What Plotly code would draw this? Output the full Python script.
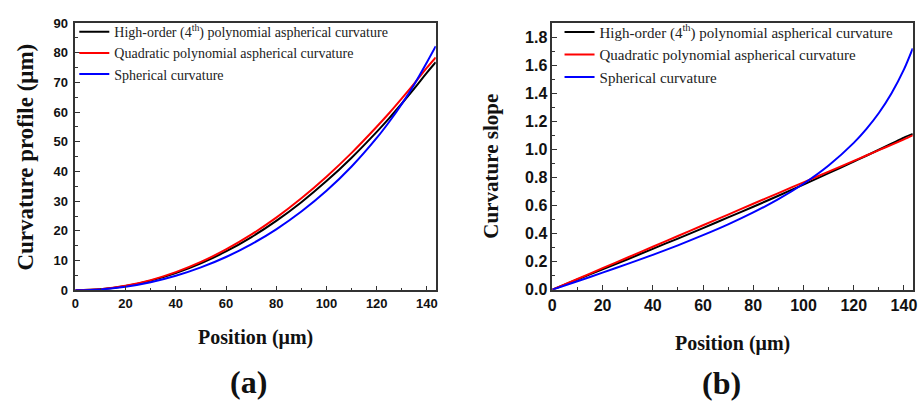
import plotly.graph_objects as go

# ---- data ----
position = [0, 10, 20, 30, 40, 50, 60, 70, 80, 90, 100, 110, 120, 125, 130, 135, 140, 143.5]

profile_high_order = [0, 0.36, 1.45, 3.26, 5.80, 9.07, 13.09, 17.85, 23.38, 29.68, 36.77, 44.66, 53.37, 58.0, 62.91, 68.0, 73.31, 76.8]
profile_quadratic = [0, 0.38, 1.53, 3.44, 6.12, 9.56, 13.77, 18.74, 24.47, 30.97, 38.24, 46.27, 55.07, 59.7, 64.63, 69.69, 74.95, 78.4]
profile_spherical = [0, 0.30, 1.21, 2.73, 4.89, 7.71, 11.22, 15.48, 20.55, 26.52, 33.50, 41.68, 51.30, 56.77, 62.77, 69.40, 76.80, 82.2]

slope_high_order = [0, 0.072, 0.145, 0.217, 0.291, 0.364, 0.439, 0.515, 0.591, 0.669, 0.749, 0.830, 0.912, 0.954, 0.997, 1.040, 1.084, 1.11]
slope_quadratic = [0, 0.076, 0.153, 0.229, 0.306, 0.382, 0.459, 0.535, 0.612, 0.688, 0.765, 0.841, 0.918, 0.956, 0.994, 1.032, 1.071, 1.10]
slope_spherical = [0, 0.060, 0.121, 0.184, 0.248, 0.316, 0.388, 0.465, 0.550, 0.645, 0.755, 0.885, 1.046, 1.144, 1.259, 1.398, 1.570, 1.72]

series_names = [
    "High-order (4<sup>th</sup>) polynomial aspherical curvature",
    "Quadratic polynomial aspherical curvature",
    "Spherical curvature",
]
series_colors = ["#000000", "#ff0000", "#0000ff"]

W, H = 924, 404
def px(x): return x / W
def py(y): return 1 - y / H

fig = go.Figure()

for name, color, ys in zip(series_names, series_colors,
                           [profile_high_order, profile_quadratic, profile_spherical]):
    fig.add_trace(go.Scatter(x=position, y=ys, mode="lines", name=name,
                             line=dict(color=color, width=2, shape="spline", smoothing=0.8),
                             xaxis="x", yaxis="y", legend="legend"))

for name, color, ys in zip(series_names, series_colors,
                           [slope_high_order, slope_quadratic, slope_spherical]):
    fig.add_trace(go.Scatter(x=position, y=ys, mode="lines", name=name,
                             line=dict(color=color, width=2, shape="spline", smoothing=0.8),
                             xaxis="x2", yaxis="y2", legend="legend2"))

axis_common = dict(showline=True, mirror=True, linecolor="#333333", linewidth=1.5,
                   showgrid=False, zeroline=False, ticks="inside", ticklen=5,
                   tickwidth=1.2, tickcolor="#333333")

tickfont_a = dict(family="Liberation Sans, Arial", size=13, color="#111111", weight="bold")
tickfont_b = dict(family="Liberation Sans, Arial", size=16, color="#111111", weight="bold")

fig.update_layout(
    width=W, height=H,
    margin=dict(l=0, r=0, t=0, b=0),
    paper_bgcolor="white", plot_bgcolor="white",
    showlegend=True,
    xaxis=dict(domain=[px(72), px(436)], range=[0, 143.5], dtick=20, tick0=0,
               anchor="y", tickfont=tickfont_a,
               minor=dict(ticks="inside", dtick=10, ticklen=3, tickcolor="#333333"),
               **axis_common),
    yaxis=dict(domain=[py(295), py(16.7)], range=[0, 90], dtick=10, tick0=0,
               anchor="x", tickfont=tickfont_a, ticklabelstandoff=3,
               minor=dict(ticks="inside", dtick=5, ticklen=3, tickcolor="#333333"),
               **axis_common),
    xaxis2=dict(domain=[px(553.7), px(917.7)], range=[0, 143.5], dtick=20, tick0=0,
                anchor="y2", tickfont=tickfont_b,
                minor=dict(ticks="inside", dtick=10, ticklen=3, tickcolor="#333333"),
                **axis_common),
    yaxis2=dict(domain=[py(294.3), py(16.7)], range=[0, 1.9], dtick=0.2, tick0=0,
                anchor="x2", tickfont=tickfont_b, tickformat=".1f",
                minor=dict(ticks="inside", dtick=0.1, ticklen=3, tickcolor="#333333"),
                **axis_common),
    legend=dict(x=px(71), y=py(9.5), xanchor="left", yanchor="top",
                bgcolor="rgba(0,0,0,0)", borderwidth=0, tracegroupgap=0,
                font=dict(family="Liberation Serif, Times New Roman", size=14, color="#222222")),
    legend2=dict(x=px(561), y=py(9), xanchor="left", yanchor="top",
                 bgcolor="rgba(0,0,0,0)", borderwidth=0, tracegroupgap=0,
                 font=dict(family="Liberation Serif, Times New Roman", size=15, color="#222222")),
)

serif_bold = "Liberation Serif, Times New Roman"
annotations = [
    dict(text="Curvature profile (\u03bcm)", x=px(22), y=py(156), textangle=-90,
         font=dict(family=serif_bold, size=23, color="#111111", weight="bold")),
    dict(text="Position (\u03bcm)", x=px(254), y=py(344),
         font=dict(family=serif_bold, size=20, color="#111111", weight="bold")),
    dict(text="Curvature slope", x=px(492), y=py(166), textangle=-90,
         font=dict(family=serif_bold, size=21, color="#111111", weight="bold")),
    dict(text="Position (\u03bcm)", x=px(736), y=py(350),
         font=dict(family=serif_bold, size=20, color="#111111", weight="bold")),
    dict(text="(a)", x=px(247), y=py(390),
         font=dict(family=serif_bold, size=32, color="#111111", weight="bold")),
    dict(text="(b)", x=px(725), y=py(392),
         font=dict(family=serif_bold, size=32, color="#111111", weight="bold")),
]
for a in annotations:
    a.update(xref="paper", yref="paper", showarrow=False, xanchor="center", yanchor="middle")
fig.update_layout(annotations=annotations)

fig.write_html("out.html")
